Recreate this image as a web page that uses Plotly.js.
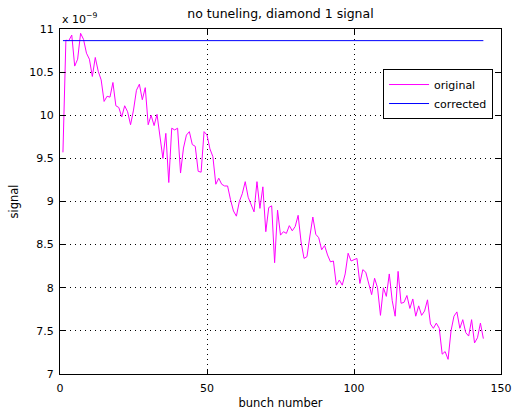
<!DOCTYPE html>
<html>
<head>
<meta charset="utf-8">
<script src="https://cdn.plot.ly/plotly-3.0.1.min.js"></script>
<style>html,body{margin:0;padding:0;background:#fff;}#chart{width:515px;height:411px;}</style>
</head>
<body>
<div id="chart"></div>
<script>
// bunch numbers 1..144
var bunch = [];
for (var i = 1; i <= 144; i++) bunch.push(i);

// original signal (units of 1e-9)
var original = [
  9.57, 10.87, 10.865, 10.93, 10.57, 10.65, 10.95, 10.88, 10.72, 10.65,
  10.45, 10.67, 10.51, 10.41, 10.16, 10.22, 10.21, 10.38, 10.11, 10.09,
  9.98, 10.11, 10.04, 9.89, 10.06, 10.29, 10.36, 10.18, 10.32, 9.89,
  10.00, 9.88, 10.01, 9.75, 9.50, 9.79, 9.22, 9.85, 9.83, 9.85,
  9.33, 9.62, 9.77, 9.81, 9.66, 9.64, 9.35, 9.34, 9.81, 9.77,
  9.61, 9.52, 9.20, 9.27, 9.20, 9.18, 9.18, 9.02, 8.89, 8.83,
  9.00, 9.09, 9.23, 9.05, 8.97, 8.88, 9.23, 8.92, 9.17, 8.65,
  8.93, 8.95, 8.29, 8.90, 8.61, 8.65, 8.63, 8.72, 8.66, 8.71,
  8.84, 8.53, 8.34, 8.36, 8.60, 8.82, 8.62, 8.58, 8.44, 8.49,
  8.38, 8.30, 8.31, 8.03, 8.09, 8.03, 8.16, 8.40, 8.31, 8.33,
  8.34, 8.05, 8.21, 8.18, 8.04, 7.92, 8.11, 8.00, 7.68, 8.00,
  7.90, 8.16, 7.85, 7.67, 8.19, 7.82, 7.83, 7.91, 7.76, 7.87,
  7.67, 7.79, 7.68, 7.73, 7.86, 7.58, 7.53, 7.59, 7.53, 7.23,
  7.26, 7.17, 7.50, 7.67, 7.72, 7.53, 7.63, 7.48, 7.44, 7.63,
  7.36, 7.42, 7.59, 7.41
];

// corrected signal (constant level, units of 1e-9)
var correctedLevel = 10.865;
var corrected = bunch.map(function () { return correctedLevel; });

var xTicks = [0, 50, 100, 150];
var yTicks = [7, 7.5, 8, 8.5, 9, 9.5, 10, 10.5, 11];
var yTickText = ['7', '7.5', '8', '8.5', '9', '9.5', '10', '10.5', '11'];

var FONT = 'DejaVu Sans, Liberation Sans, Arial, sans-serif';

var traces = [
  {x: bunch, y: original, type: 'scatter', mode: 'lines', name: 'original',
   line: {color: '#ff00ff', width: 1}},
  {x: bunch, y: corrected, type: 'scatter', mode: 'lines', name: 'corrected',
   line: {color: '#0000ff', width: 1}}
];

var axisCommon = {
  showline: true, linecolor: '#000', linewidth: 1, mirror: 'allticks',
  ticks: 'inside', ticklen: 5, tickcolor: '#000', tickwidth: 1,
  showgrid: true, gridcolor: '#000', gridwidth: 1, griddash: '1px,4px',
  zeroline: false, tickfont: {family: FONT, size: 11, color: '#000'}
};

var layout = {
  width: 515, height: 411,
  margin: {l: 60, r: 14, t: 29, b: 37},
  paper_bgcolor: '#fff', plot_bgcolor: '#fff',
  font: {family: FONT, size: 11, color: '#000'},
  showlegend: true,
  title: {text: 'no tuneling, diamond 1 signal', font: {family: FONT, size: 12.5, color: '#000'},
          x: 0.5, xref: 'paper', xanchor: 'center', y: 1, yref: 'paper', yanchor: 'bottom', pad: {b: 11}},
  xaxis: Object.assign({}, axisCommon, {
    range: [0, 150], tickmode: 'array', tickvals: xTicks, ticklabelstandoff: 4,
    title: {text: 'bunch number', font: {family: FONT, size: 11.5, color: '#000'}, standoff: 4}
  }),
  yaxis: Object.assign({}, axisCommon, {
    range: [7, 11], tickmode: 'array', tickvals: yTicks, ticktext: yTickText, ticklabelstandoff: 3,
    title: {text: 'signal', font: {family: FONT, size: 11.5, color: '#000'}, standoff: 8}
  }),
  legend: {
    x: 0.982, xanchor: 'right', y: 0.884, yanchor: 'top',
    bgcolor: '#fff', bordercolor: '#000', borderwidth: 1,
    font: {family: FONT, size: 11, color: '#000'},
    tracegroupgap: 0, itemwidth: 40
  },
  annotations: [{
    text: 'x 10<sup>\u22129</sup>', xref: 'paper', yref: 'paper', x: 0, y: 1,
    xanchor: 'left', yanchor: 'bottom', showarrow: false, yshift: 1,
    font: {family: FONT, size: 11, color: '#000'}
  }]
};

Plotly.newPlot('chart', traces, layout, {displayModeBar: false, staticPlot: true});
</script>
</body>
</html>
